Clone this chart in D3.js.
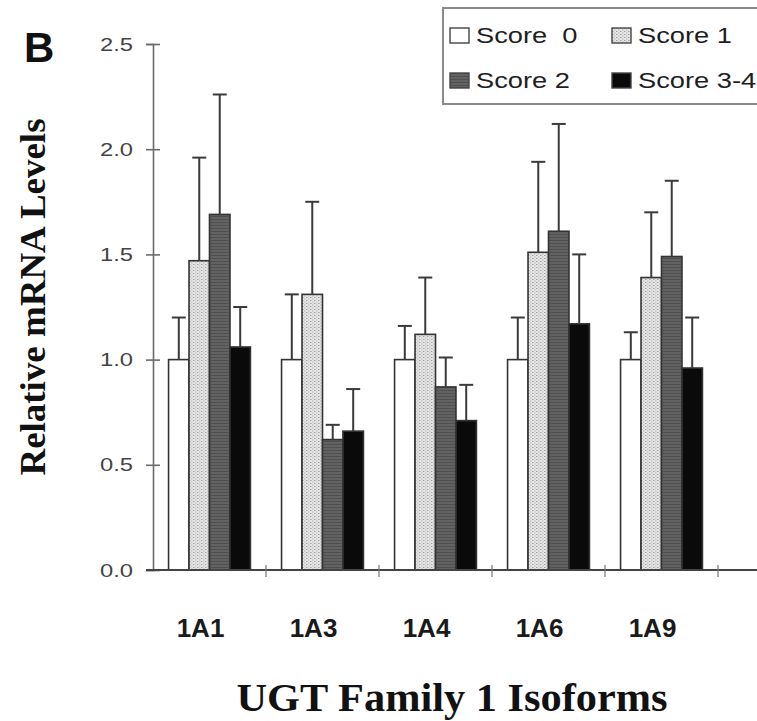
<!DOCTYPE html>
<html>
<head>
<meta charset="utf-8">
<script src="https://cdn.jsdelivr.net/npm/d3@7"></script>
<style>
  body { margin: 0; background: #fff; }
  svg { display: block; }
</style>
</head>
<body>
<div id="chart"></div>
<script>
// Data
const categories = ["1A1", "1A3", "1A4", "1A6", "1A9"];
const series = ["Score  0", "Score 1", "Score 2", "Score 3-4"];
const score0 = [1.00, 1.00, 1.00, 1.00, 1.00];
const score1 = [1.47, 1.31, 1.12, 1.51, 1.39];
const score2 = [1.69, 0.62, 0.87, 1.61, 1.49];
const score34 = [1.06, 0.66, 0.71, 1.17, 0.96];
const sd0 = [0.20, 0.31, 0.16, 0.20, 0.13];
const sd1 = [0.49, 0.44, 0.27, 0.43, 0.31];
const sd2 = [0.57, 0.07, 0.14, 0.51, 0.36];
const sd34 = [0.19, 0.20, 0.17, 0.33, 0.24];
const yTicks = [0, 0.5, 1.0, 1.5, 2.0, 2.5];

const means = [score0, score1, score2, score34];
const sds = [sd0, sd1, sd2, sd34];

const width = 757, height = 721;
const margin = {top: 44, right: 39, bottom: 151, left: 153};

const svg = d3.select("#chart")
  .append("svg")
  .attr("width", width)
  .attr("height", height);

// Fill patterns
const defs = svg.append("defs");
const dots = defs.append("pattern")
  .attr("id", "dots")
  .attr("width", 4).attr("height", 3)
  .attr("patternUnits", "userSpaceOnUse");
dots.append("rect").attr("width", 4).attr("height", 3).attr("fill", "#e6e6e6");
dots.append("rect").attr("x", 0).attr("y", 0).attr("width", 1.5).attr("height", 1).attr("fill", "#a0a0a0");
dots.append("rect").attr("x", 2).attr("y", 1.5).attr("width", 1.5).attr("height", 1).attr("fill", "#b4b4b4");

const hatch = defs.append("pattern")
  .attr("id", "hatch")
  .attr("width", 3).attr("height", 3)
  .attr("patternUnits", "userSpaceOnUse");
hatch.append("rect").attr("width", 3).attr("height", 3).attr("fill", "#626262");
hatch.append("rect").attr("width", 3).attr("height", 1).attr("fill", "#505050");

const fills = ["#ffffff", "url(#dots)", "url(#hatch)", "#0a0a0a"];

// Scales
const x0 = d3.scaleBand()
  .domain(categories)
  .range([margin.left, width - margin.right])
  .padding(0);
const x1 = d3.scaleBand()
  .domain(series)
  .range([0, x0.bandwidth()])
  .paddingInner(0)
  .paddingOuter(0.76);
const y = d3.scaleLinear()
  .domain([0, 2.5])
  .range([height - margin.bottom, margin.top]);

// Y axis
const yAxis = svg.append("g")
  .attr("transform", `translate(${margin.left},0)`)
  .call(d3.axisLeft(y).tickValues(yTicks).tickFormat(d3.format(".1f")).tickSize(7).tickPadding(20));
yAxis.select(".domain").attr("stroke", "#6a6a6a").attr("stroke-width", 1.6);
yAxis.selectAll(".tick line").attr("stroke", "#6a6a6a").attr("stroke-width", 1.6).attr("x1", 7);
yAxis.selectAll(".tick text")
  .attr("fill", "#444")
  .style("font-family", "Arial, 'Liberation Sans', sans-serif")
  .style("font-size", "19px")
  .attr("text-anchor", "end")
  .attr("transform", "scale(1.25,1)")
  .attr("x", -20 / 1.25);

// Bars
const groups = svg.append("g")
  .selectAll("g")
  .data(categories)
  .join("g")
  .attr("transform", d => `translate(${x0(d)},0)`);

groups.selectAll("rect")
  .data((c, i) => series.map((s, k) => ({s, k, v: means[k][i], e: sds[k][i]})))
  .join("rect")
  .attr("x", d => x1(d.s))
  .attr("y", d => y(d.v))
  .attr("width", x1.bandwidth())
  .attr("height", d => y(0) - y(d.v))
  .attr("fill", d => fills[d.k])
  .attr("stroke", "#333")
  .attr("stroke-width", 1.6);

// Error bars (upper only)
const err = groups.selectAll("g.err")
  .data((c, i) => series.map((s, k) => ({s, k, v: means[k][i], e: sds[k][i]})))
  .join("g")
  .attr("class", "err")
  .attr("stroke", "#3a3a3a")
  .attr("stroke-width", 2);
err.append("line")
  .attr("x1", d => x1(d.s) + x1.bandwidth() / 2)
  .attr("x2", d => x1(d.s) + x1.bandwidth() / 2)
  .attr("y1", d => y(d.v))
  .attr("y2", d => y(d.v + d.e));
err.append("line")
  .attr("x1", d => x1(d.s) + x1.bandwidth() / 2 - 7)
  .attr("x2", d => x1(d.s) + x1.bandwidth() / 2 + 7)
  .attr("y1", d => y(d.v + d.e))
  .attr("y2", d => y(d.v + d.e));

// X axis line and group separators
svg.append("line")
  .attr("x1", margin.left - 7)
  .attr("x2", width)
  .attr("y1", y(0))
  .attr("y2", y(0))
  .attr("stroke", "#444")
  .attr("stroke-width", 2);
svg.append("g")
  .selectAll("line")
  .data(categories)
  .join("line")
  .attr("x1", d => x0(d) + x0.bandwidth())
  .attr("x2", d => x0(d) + x0.bandwidth())
  .attr("y1", y(0) - 5)
  .attr("y2", y(0) + 7)
  .attr("stroke", "#777")
  .attr("stroke-width", 1.2);

// Category labels
svg.append("g")
  .selectAll("text")
  .data(categories)
  .join("text")
  .attr("x", d => x0(d) + x0.bandwidth() / 2 - 9)
  .attr("y", 637)
  .attr("text-anchor", "middle")
  .style("font-family", "Arial, 'Liberation Sans', sans-serif")
  .style("font-weight", "bold")
  .style("font-size", "26px")
  .attr("fill", "#1a1a1a")
  .text(d => d);

// Axis titles
svg.append("text")
  .attr("transform", "translate(45,297) rotate(-90)")
  .attr("text-anchor", "middle")
  .attr("textLength", 357)
  .attr("lengthAdjust", "spacingAndGlyphs")
  .style("font-family", "'Liberation Serif', 'Times New Roman', serif")
  .style("font-weight", "bold")
  .style("font-size", "35px")
  .attr("fill", "#111")
  .text("Relative mRNA Levels");

svg.append("text")
  .attr("x", 452)
  .attr("y", 711)
  .attr("text-anchor", "middle")
  .attr("textLength", 431)
  .attr("lengthAdjust", "spacingAndGlyphs")
  .style("font-family", "'Liberation Serif', 'Times New Roman', serif")
  .style("font-weight", "bold")
  .style("font-size", "40px")
  .attr("fill", "#111")
  .text("UGT Family 1 Isoforms");

// Panel letter
svg.append("text")
  .attr("x", 24)
  .attr("y", 62)
  .style("font-family", "Arial, 'Liberation Sans', sans-serif")
  .style("font-weight", "bold")
  .style("font-size", "42px")
  .attr("fill", "#111")
  .text("B");

// Legend
const legend = svg.append("g");
legend.append("rect")
  .attr("x", 443)
  .attr("y", 8)
  .attr("width", 330)
  .attr("height", 96)
  .attr("fill", "#fff")
  .attr("stroke", "#8a8a8a")
  .attr("stroke-width", 2);

const legendPos = [[450, 43], [612, 43], [450, 88], [612, 88]];
const items = legend.selectAll("g.item")
  .data(series)
  .join("g")
  .attr("class", "item")
  .attr("transform", (d, i) => `translate(${legendPos[i][0]},${legendPos[i][1]})`);
items.append("rect")
  .attr("x", 0)
  .attr("y", -15)
  .attr("width", 19)
  .attr("height", 15)
  .attr("fill", (d, i) => fills[i])
  .attr("stroke", "#444")
  .attr("stroke-width", 1.4);
items.append("text")
  .attr("transform", "translate(26,0) scale(1.24,1)")
  .style("font-family", "Arial, 'Liberation Sans', sans-serif")
  .style("font-size", "22px")
  .style("white-space", "pre")
  .attr("xml:space", "preserve")
  .attr("fill", "#1e1e1e")
  .text(d => d);
</script>
</body>
</html>
